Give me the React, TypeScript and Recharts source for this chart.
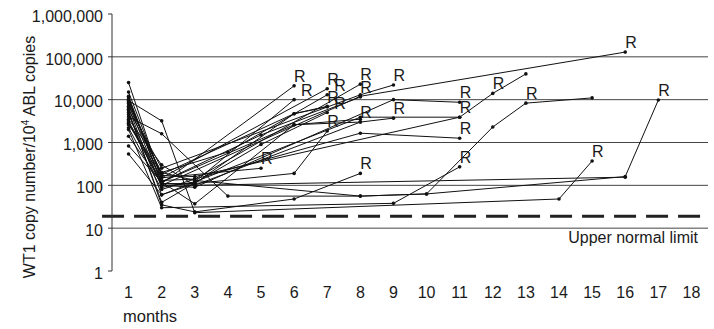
import React from 'react'
import { LineChart, Line, XAxis, YAxis, ReferenceLine, LabelList, Label } from 'recharts'

type Pt = [number, number, string?]

// months on the x axis, log ticks on the y axis
const months = [1, 2, 3, 4, 5, 6, 7, 8, 9, 10, 11, 12, 13, 14, 15, 16, 17, 18]
const yTicks = [1, 10, 100, 1000, 10000, 100000, 1000000]
const gridValues = [10, 100, 1000, 10000, 100000]
const minorSteps = [2, 3, 4, 5, 6, 7, 8, 9]
const upperNormalLimit = 19

// one array per patient: [month, WT1 copies, 'R' = relapse]
const p01: Pt[] = [[1, 12000], [2, 110], [6, 21000, 'R']]
const p02: Pt[] = [[1, 8000], [2, 90], [3, 120], [6, 10000, 'R']]
const p03: Pt[] = [[1, 15000], [2, 150], [7, 18000, 'R']]
const p04: Pt[] = [[1, 6000], [2, 200], [4, 600], [7, 13000, 'R']]
const p05: Pt[] = [[1, 25000], [2, 130], [3, 140], [8, 23000, 'R']]
const p06: Pt[] = [[1, 7000], [2, 250], [8, 13000], [9, 22000, 'R']]
const p07: Pt[] = [[1, 10000], [2, 120], [5, 1500], [8, 11500, 'R']]
const p08: Pt[] = [[1, 4500], [2, 100], [3, 90], [9, 10000], [11, 8700, 'R']]
const p09: Pt[] = [[1, 9000], [2, 180], [6, 4700], [7, 6800, 'R']]
const p10: Pt[] = [[1, 5000], [2, 40], [5, 900], [7, 5000, 'R']]
const p11: Pt[] = [[1, 3500], [2, 300], [3, 100], [8, 3000, 'R']]
const p12: Pt[] = [[1, 2800], [2, 120], [6, 2600], [8, 3000], [9, 3700, 'R']]
const p13: Pt[] = [[1, 11000], [2, 110], [3, 110], [6, 190], [7, 1850, 'R']]
const p14: Pt[] = [[1, 6500], [2, 60], [8, 3900], [11, 3900, 'R']]
const p15: Pt[] = [[1, 2200], [2, 80], [3, 140], [8, 1650], [11, 1260, 'R']]
const p16: Pt[] = [[1, 3000], [2, 150], [5, 250, 'R']]
const p17: Pt[] = [[1, 5500], [2, 35], [3, 24], [6, 48], [8, 190, 'R']]
const p18: Pt[] = [[1, 2000], [2, 30], [9, 38], [11, 270, 'R']]
const p19: Pt[] = [[1, 8500], [2, 170], [3, 160], [11, 3900], [12, 14000, 'R'], [13, 40000]]
const p20: Pt[] = [[1, 4000], [2, 1600], [4, 56], [8, 56], [10, 63], [12, 2300], [13, 8300, 'R'], [15, 11000]]
const p21: Pt[] = [[1, 9500], [2, 3200], [3, 23], [14, 48], [15, 370, 'R']]
const p22: Pt[] = [[1, 3200], [2, 100], [8, 12000], [16, 129000, 'R']]
const p23: Pt[] = [[1, 2600], [2, 200], [3, 130], [8, 56], [10, 63], [16, 160], [17, 9800, 'R']]
const p24: Pt[] = [[1, 1400], [2, 110], [3, 100], [16, 155]]
const p25: Pt[] = [[1, 830], [2, 120], [3, 37], [6, 2600], [8, 3500]]
const p26: Pt[] = [[1, 540], [2, 60], [3, 110], [6, 4700], [7, 7000]]

const patients = [p01, p02, p03, p04, p05, p06, p07, p08, p09, p10, p11, p12, p13,
  p14, p15, p16, p17, p18, p19, p20, p21, p22, p23, p24, p25, p26]

// relapse marks that sit a little to the right of their neighbour, as in the figure
const shiftedR = new Set([p02, p04, p10])

const series = patients.map(p => p.map(([m, v, r]) => ({ m, v, r })))
const minorTicks = yTicks.slice(0, -1).flatMap(d => minorSteps.map(k => k * d))
const boundaryTicks = [0.5, ...months.map(m => m + 0.5)]

const FONT = '"Liberation Sans", Arial, sans-serif'
const INK = '#1a1a1a'

const fmt = (v: number) => v.toLocaleString('en-US')

const renderR = (props: any, dx: number) => {
  const vb = props.viewBox || {}
  const x = props.x ?? vb.x
  const y = props.y ?? vb.y
  if (!props.value || x == null || y == null) return null
  return (
    <text x={x + dx} y={y - 4} fontSize={16} fontFamily={FONT} fill={INK}>
      {props.value}
    </text>
  )
}

const renderYTitle = () => (
  <text
    x={35}
    y={157}
    transform="rotate(-90, 35, 157)"
    textAnchor="middle"
    fontSize={16}
    fontFamily={FONT}
    fill={INK}
  >
    <tspan>WT1 copy number/10</tspan>
    <tspan dy={-6} fontSize={10}>4</tspan>
    <tspan dy={6}> ABL copies</tspan>
  </text>
)

const renderMonths = () => (
  <text x={123} y={322} fontSize={16.5} fontFamily={FONT} fill={INK}>
    months
  </text>
)

const renderLimit = (props: any) => {
  const vb = props.viewBox || {}
  return (
    <text x={vb.x + vb.width - 10} y={vb.y + 15} textAnchor="end" fontSize={16} fontFamily={FONT} fill={INK}>
      Upper normal limit
    </text>
  )
}

export default function App() {
  return (
    <div style={{ position: 'absolute', left: 0, top: 0, width: 714, height: 329, background: '#fff' }}>
      <LineChart width={714} height={329} margin={{ top: 14, right: 6, bottom: 0, left: 0 }}>
        <XAxis
          xAxisId="marks"
          type="number"
          domain={[0.5, 18.5]}
          ticks={boundaryTicks}
          tickFormatter={() => ''}
          tickSize={5}
          height={0}
          stroke="#333"
          allowDataOverflow
        />
        <XAxis
          xAxisId="lab"
          dataKey="m"
          type="number"
          domain={[0.5, 18.5]}
          ticks={months}
          tickLine={false}
          axisLine={false}
          tickSize={0}
          tickMargin={16}
          height={58}
          interval={0}
          tick={{ fontSize: 16, fontFamily: FONT, fill: INK }}
          allowDataOverflow
        >
          <Label content={renderMonths} />
        </XAxis>
        <YAxis
          yAxisId="minor"
          type="number"
          scale="log"
          domain={[1, 1000000]}
          ticks={minorTicks}
          tickFormatter={() => ''}
          tickSize={3}
          axisLine={false}
          width={0}
          stroke="#555"
          allowDataOverflow
        />
        <YAxis
          yAxisId="main"
          dataKey="v"
          type="number"
          scale="log"
          domain={[1, 1000000]}
          ticks={yTicks}
          tickFormatter={fmt}
          tickSize={4}
          tickMargin={5}
          width={112}
          stroke="#333"
          interval={0}
          tick={{ fontSize: 16, fontFamily: FONT, fill: INK, dy: 2 }}
          allowDataOverflow
        >
          <Label content={renderYTitle} />
        </YAxis>

        {gridValues.map(g => (
          <ReferenceLine
            key={g}
            yAxisId="main"
            xAxisId="lab"
            y={g}
            stroke="#444"
            strokeWidth={1}
            label={g === 10 ? renderLimit : undefined}
          />
        ))}
        <ReferenceLine
          yAxisId="main"
          xAxisId="lab"
          segment={[{ x: 0.2, y: upperNormalLimit }, { x: 18.5, y: upperNormalLimit }]}
          ifOverflow="visible"
          stroke="#222"
          strokeWidth={3}
          strokeDasharray="22 10"
        />

        {series.map((d, i) => (
          <Line
            key={i}
            data={d}
            xAxisId="lab"
            yAxisId="main"
            dataKey="v"
            type="linear"
            stroke="#111"
            strokeWidth={1}
            dot={{ r: 1.8, fill: '#111', stroke: 'none' }}
            activeDot={false}
            isAnimationActive={false}
          >
            <LabelList
              dataKey="r"
              content={(props: any) => renderR(props, shiftedR.has(patients[i]) ? 7 : 0)}
            />
          </Line>
        ))}
      </LineChart>
    </div>
  )
}
